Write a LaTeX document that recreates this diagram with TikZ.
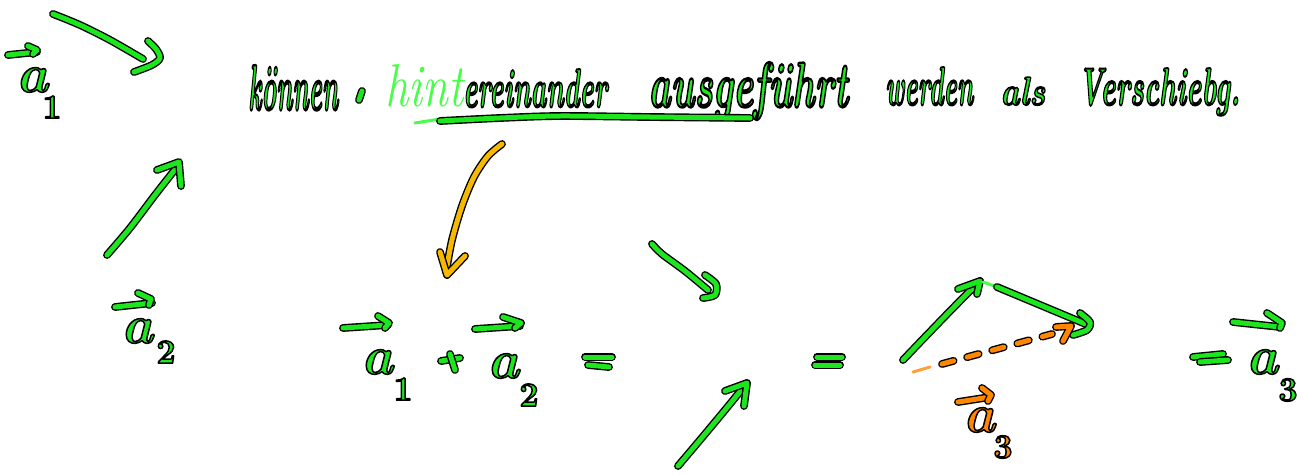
\documentclass[tikz,border=0pt]{standalone}
\definecolor{pg}{RGB}{30,230,30}
\definecolor{lg}{RGB}{70,255,70}
\definecolor{amb}{RGB}{245,185,0}
\definecolor{org}{RGB}{255,135,0}
\definecolor{lorg}{RGB}{255,160,60}
\newcommand\olt[3][1.5]{\textcolor{#2}{\special{pdf:literal direct q 0 0 0 RG #1 w 1 j 2 Tr}#3\special{pdf:literal direct Q}}}
\newcommand\hw[4]{\resizebox{#1pt}{#2pt}{\fontsize{40}{40}\selectfont\olt[1.5]{#3}{\bfseries\itshape #4}}}
\tikzset{
  pen/.style={draw=black, line width=1.4pt, double=pg, double distance=5pt, line cap=round, line join=round},
  penA/.style={pen, double=amb},
  penO/.style={pen, double=org},
  thinpen/.style={draw=#1, line width=3pt, line cap=round},
  word/.style={anchor=base west, inner sep=0pt},
  lbl/.style={inner sep=0pt, font=\fontsize{54}{54}\selectfont\bfseries\itshape},
  sub/.style={inner sep=0pt, font=\fontsize{34}{34}\selectfont\bfseries},
}
\begin{document}
\begin{tikzpicture}[x=1pt,y=-1pt]
\useasboundingbox[fill=white] (0,0) rectangle (1304,474);

% --- top line of text ---
\node[word] (w1) at (248,110) {\hw{90}{45}{pg}{können}};
\draw[pen] (362,91) -- (359,100);
\node[word] (w2) at (385,106) {\resizebox{78pt}{42pt}{\fontsize{40}{40}\selectfont\textcolor{lg}{\itshape hint}}};
\node[word] (w3) at (463,107) {\hw{144}{38}{pg}{ereinander}};
\node[word] (w4) at (648,107) {\hw{200}{45}{pg}{ausgeführt}};
\node[word] (w5) at (885,105) {\hw{88}{38}{pg}{werden}};
\node[word] (w6) at (1000,105) {\hw{45}{28}{pg}{als}};
\node[word] (w7) at (1078,105) {\hw{162}{37}{pg}{Verschiebg.}};
\draw[thinpen=lg] (415,123) -- (440,119);
\draw[pen] plot[smooth] coordinates {(440,121) (500,118) (560,116) (650,117) (750,118)};

% --- vector a1 (top left) ---
\draw[pen] plot[smooth] coordinates {(53,14) (80,25) (110,40) (143,59)};
\draw[pen] plot[smooth] coordinates {(148,41) (156,49) (160,58) (152,65) (134,72)};
\draw[pen] (8,55) -- (37,52);
\draw[pen] (28,46) -- (37,50) -- (33,54);
\node[lbl] (la1) at (32,80) {\olt{pg}{a}};
\node[sub] (sa1) at (52,107) {\olt{pg}{1}};

% --- vector a2 ---
\draw[pen] plot[smooth] coordinates {(107,255) (130,228) (155,195) (177,167)};
\draw[pen] (157,170) -- (179,162) -- (181,186);
\draw[pen] (115,307) -- (152,303);
\draw[pen] (138,293) -- (151,299) -- (149,305);
\node[lbl] (la2) at (137,331) {\olt{pg}{a}};
\node[sub] (sa2) at (166,352) {\olt{pg}{2}};

% --- amber curved arrow ---
\draw[penA] plot[smooth] coordinates {(502,144) (488,156) (474,177) (462,206) (452,240) (446,272)};
\draw[penA] (440,252) -- (447,275) -- (465,256);

% --- formula a1 + a2 ---
\draw[pen] (343,328) -- (388,325);
\draw[pen] (378,316) -- (389,323) -- (385,328);
\node[lbl] (fa1) at (377,362) {\olt{pg}{a}};
\node[sub] (fs1) at (403,389) {\olt{pg}{1}};
\draw[pen] (441,361) -- (460,358);
\draw[pen] (450,354) -- (455,370);
\draw[pen] (475,329) -- (520,326);
\draw[pen] (503,317) -- (521,323) -- (515,328);
\node[lbl] (fa2) at (503,366) {\olt{pg}{a}};
\node[sub] (fs2) at (529,395) {\olt{pg}{2}};

% --- first "=" ---
\draw[pen] (585,357) -- (612,357);
\draw[pen] (588,365) -- (609,367);

% --- separated arrows ---
\draw[pen] plot[smooth] coordinates {(652,244) (662,254) (685,271) (708,290)};
\draw[pen] plot[smooth] coordinates {(705,275) (716,284) (715,295) (703,298)};
\draw[pen] plot[smooth] coordinates {(678,466) (700,440) (725,410) (747,383)};
\draw[pen] (725,391) -- (747,383) -- (744,406);

% --- second "=" ---
\draw[pen] (817,357) -- (842,357);
\draw[pen] (815,365) -- (840,365);

% --- triangle ---
\draw[pen] plot[smooth] coordinates {(903,360) (925,337) (955,306) (980,281)};
\draw[pen] (958,289) -- (980,281) -- (977,294);
\draw[thinpen=lg] (983,282) -- (997,287);
\draw[pen] (997,287) -- (1088,325);
\draw[pen] plot[smooth] coordinates {(1080,313) (1090,322) (1087,330) (1073,335)};
\draw[thinpen=lorg] (913,372) -- (930,367);
\draw[penO, dash pattern=on 12pt off 14pt] (942,364) -- (1052,334);
\draw[penO] (1056,327) -- (1071,326) -- (1063,341);

% --- orange a3 ---
\draw[penO] (958,402) -- (990,397);
\draw[penO] (982,388) -- (991,395) -- (988,401);
\node[lbl] (oa3) at (979,420) {\olt{org}{a}};
\node[sub] (os3) at (1003,447) {\olt{org}{3}};

% --- "= a3" ---
\draw[pen] (1193,357) -- (1223,354);
\draw[pen] (1200,362) -- (1228,360);
\draw[pen] (1233,322) -- (1280,327);
\draw[pen] (1267,313) -- (1282,323) -- (1280,328);
\node[lbl] (ra3) at (1262,362) {\olt{pg}{a}};
\node[sub] (rs3) at (1288,390) {\olt{pg}{3}};
\end{tikzpicture}
\end{document}
